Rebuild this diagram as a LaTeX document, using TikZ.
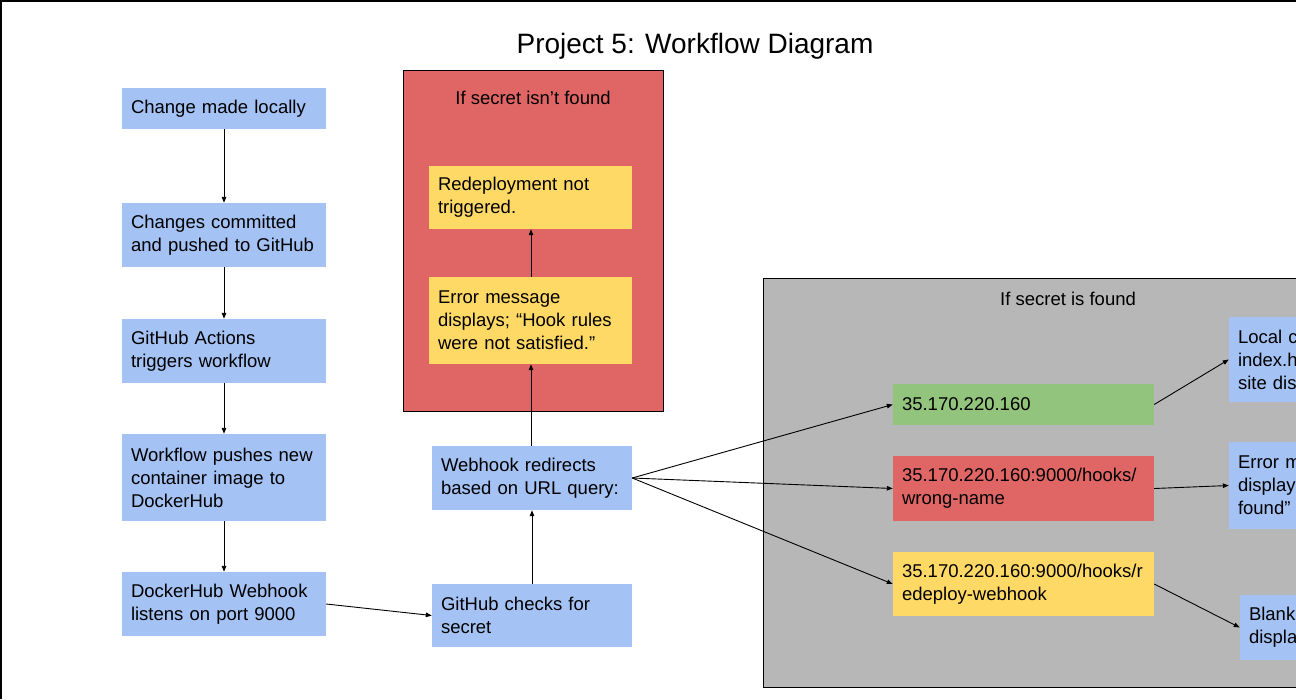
\documentclass[tikz,border=0pt]{standalone}
\usepackage{fontspec}
\setmainfont{Liberation Sans}
\usetikzlibrary{arrows.meta}
\definecolor{gblue}{RGB}{164,194,244}
\definecolor{gred}{RGB}{224,102,102}
\definecolor{gyellow}{RGB}{255,217,102}
\definecolor{ggreen}{RGB}{147,196,125}
\definecolor{ggray}{RGB}{183,183,183}
\begin{document}
\begin{tikzpicture}[x=1pt,y=-1pt,
  bx/.style={inner xsep=9pt, inner ysep=0pt, align=left, anchor=center,
    font=\fontsize{18.5}{23}\selectfont},
  blue/.style={bx, fill=gblue},
  yel/.style={bx, fill=gyellow},
  redb/.style={bx, fill=gred},
  grn/.style={bx, fill=ggreen},
  cont/.style={draw=black, line width=1pt},
  lbl/.style={font=\fontsize{18.5}{23}\selectfont, anchor=center},
  arr/.style={draw=black, line width=0.9pt, -{Triangle[length=6pt,width=4.5pt]}}
]
\useasboundingbox (0,0) rectangle (1296,699);
\clip (0,0) rectangle (1296,699);
\fill[white] (0,0) rectangle (1296,699);
% outer frame (top and left visible)
\draw[line width=1.5pt] (0.75,699) -- (0.75,0.75) -- (1296,0.75);

\node[font=\fontsize{28}{32}\selectfont, anchor=center] (title) at (695,46) {Project 5: Workflow Diagram};

% containers
\node[cont, fill=gred, minimum width=260pt, minimum height=341pt, inner sep=0pt] (failc) at (533,240.5) {};
\node[lbl] (failt) at (533,98) {If secret isn’t found};
\path[cont, fill=ggray] (763,278) rectangle (1420,687);
\coordinate (gc) at (763,278);
\node[lbl] (succt) at (1068,299) {If secret is found};

% left column
\node[blue, text width=186pt, minimum height=41pt] (b1) at (224,108.5) {Change made locally};
\node[blue, text width=186pt, minimum height=64pt] (b2) at (224,235) {Changes committed\\and pushed to GitHub};
\node[blue, text width=186pt, minimum height=64pt] (b3) at (224,351) {GitHub Actions\\triggers workflow};
\node[blue, text width=186pt, minimum height=87pt] (b4) at (224,477.5) {Workflow pushes new\\container image to\\DockerHub};
\node[blue, text width=186pt, minimum height=64pt] (b5) at (224,604) {DockerHub Webhook\\listens on port 9000};

% middle column
\node[blue, text width=182pt, minimum height=63pt] (chk) at (532,615.5) {GitHub checks for\\secret};
\node[blue, text width=182pt, minimum height=64pt] (wh) at (532,478) {Webhook redirects\\based on URL query:};
\node[yel, text width=185pt, minimum height=87pt] (err) at (530.5,320.5) {Error message\\displays; “Hook rules\\were not satisfied.”};
\node[yel, text width=185pt, minimum height=63pt] (red) at (530.5,197.5) {Redeployment not\\triggered.};

% URL boxes
\node[grn, text width=243pt, minimum height=41pt] (u1) at (1023.5,404.5) {35.170.220.160};
\node[redb, text width=243pt, minimum height=65pt] (u2) at (1023.5,488.5) {35.170.220.160:9000/hooks/\\wrong-name};
\node[yel, text width=243pt, minimum height=64pt] (u3) at (1023.5,584) {35.170.220.160:9000/hooks/r\\edeploy-webhook};

% right results (cropped at the picture's edge, as in the reference)
\node[blue, text width=182pt, minimum height=85pt] (r1) at (1329,359.5) {Local c\\index.h\\site dis};
\node[blue, text width=182pt, minimum height=87pt] (r2) at (1329,485.5) {Error m\\display\\found”};
\node[blue, text width=182pt, minimum height=65pt] (r3) at (1340,627.5) {Blank\\displa};

% connectors
\draw[arr] (b1) -- (b2);
\draw[arr] (b2) -- (b3);
\draw[arr] (b3) -- (b4);
\draw[arr] (b4) -- (b5);
\draw[arr] (b5.east) -- (chk.west);
\draw[arr] (chk.north) -- (wh.south);
\draw[arr] (wh.north -| err.south) ++(0.5,0) coordinate (wn) -- (wn |- err.south);
\draw[arr] (err.north) ++(0.5,0) coordinate (en) -- (en |- red.south);
\draw[arr] (wh.east) -- (u1.west);
\draw[arr] (wh.east) -- (u2.west);
\draw[arr] (wh.east) -- (u3.west);
\draw[arr] (u1.east) -- (r1.west);
\draw[arr] (u2.east) -- (r2.west);
\draw[arr] (u3.east) -- (r3.west);
\end{tikzpicture}
\end{document}
